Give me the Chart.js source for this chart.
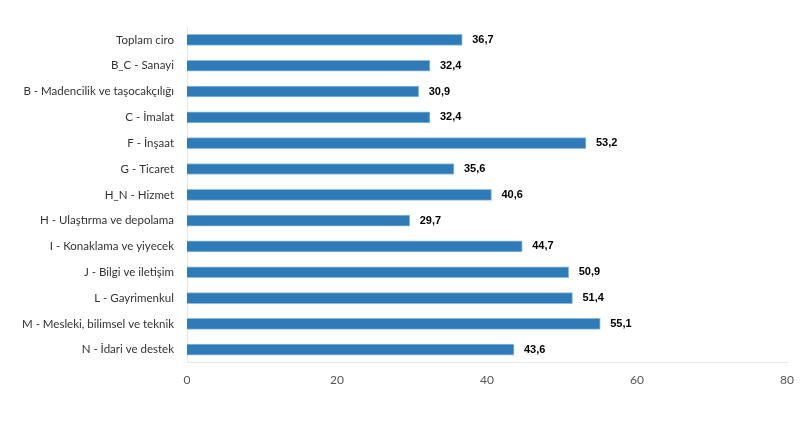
<!DOCTYPE html>
<html>
<head>
<meta charset="utf-8">
<script src="https://cdn.jsdelivr.net/npm/chart.js@4/dist/chart.umd.min.js"></script>
<style>
  html, body { margin: 0; padding: 0; background: #fff; }
  #wrap { width: 803px; height: 427px; }
</style>
</head>
<body>
<div id="wrap"><canvas id="ciroChart"></canvas></div>
<script>
const categories = [
  "Toplam ciro",
  "B_C - Sanayi",
  "B - Madencilik ve taşocakçılığı",
  "C - İmalat",
  "F - İnşaat",
  "G - Ticaret",
  "H_N - Hizmet",
  "H - Ulaştırma ve depolama",
  "I - Konaklama ve yiyecek",
  "J - Bilgi ve iletişim",
  "L - Gayrimenkul",
  "M - Mesleki, bilimsel ve teknik",
  "N - İdari ve destek"
];
const values = [36.7, 32.4, 30.9, 32.4, 53.2, 35.6, 40.6, 29.7, 44.7, 50.9, 51.4, 55.1, 43.6];
const xTicks = [0, 20, 40, 60, 80];

// draws the value next to each bar (no datalabels plugin available)
const valueLabels = {
  id: "valueLabels",
  afterDatasetsDraw(chart) {
    const ctx = chart.ctx;
    const meta = chart.getDatasetMeta(0);
    ctx.save();
    ctx.font = "bold 11px 'Liberation Sans', Arial, sans-serif";
    ctx.fillStyle = "#000";
    ctx.textBaseline = "middle";
    ctx.textAlign = "left";
    meta.data.forEach((bar, i) => {
      const txt = values[i].toFixed(1).replace(".", ",");
      ctx.fillText(txt, bar.x + 10, bar.y);
    });
    ctx.restore();
  }
};

const ciroConfig = {
  type: "bar",
  data: {
    labels: categories,
    datasets: [{
      data: values,
      backgroundColor: "#2f7bb8",
      borderColor: "#8fbde0",
      borderWidth: 1,
      barThickness: 11
    }]
  },
  options: {
    indexAxis: "y",
    responsive: true,
    maintainAspectRatio: false,
    animation: false,
    layout: { padding: { top: 27, right: 16, bottom: 38, left: 0 } },
    plugins: {
      legend: { display: false },
      tooltip: { enabled: false }
    },
    scales: {
      x: {
        min: 0,
        max: 80,
        afterBuildTicks: (scale) => { scale.ticks = xTicks.map(v => ({ value: v })); },
        grid: { display: false },
        border: { color: "#e6e6e6", width: 1 },
        ticks: {
          color: "#555",
          padding: 2,
          font: { family: "Lato, sans-serif", size: 12 }
        }
      },
      y: {
        afterFit: (scale) => { scale.width = 187; },
        grid: { display: false },
        border: { color: "#e6e6e6", width: 1 },
        ticks: {
          color: "#333",
          padding: 5,
          font: { family: "Lato, sans-serif", size: 11.5 }
        }
      }
    }
  },
  plugins: [valueLabels]
};

let ciroChart = new Chart(document.getElementById("ciroChart"), ciroConfig);
</script>
</body>
</html>
